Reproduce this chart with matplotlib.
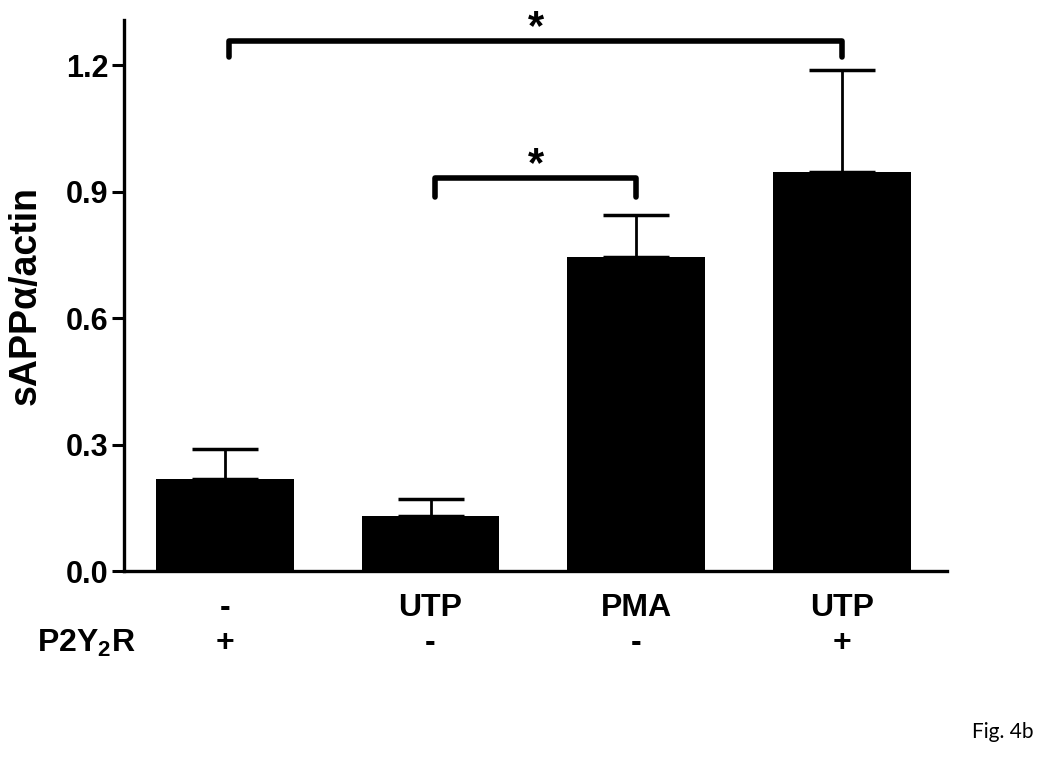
"""
Bar chart of sAPPalpha/actin by treatment (Fig. 4b)
"""
import matplotlib
matplotlib.use("Agg")
import matplotlib.pyplot as plt
import matplotlib.transforms as mtransforms

plt.rcParams["font.family"] = ["Liberation Sans", "DejaVu Sans"]
plt.rcParams["font.weight"] = "bold"
plt.rcParams["mathtext.fontset"] = "custom"
plt.rcParams["mathtext.rm"] = "Liberation Sans:bold"
plt.rcParams["mathtext.bf"] = "Liberation Sans:bold"

# data
treatment = ["-", "UTP", "PMA", "UTP"]
receptor = ["+", "-", "-", "+"]
means = [0.218, 0.130, 0.745, 0.946]
sems = [0.071, 0.041, 0.099, 0.242]
yticks = [0.0, 0.3, 0.6, 0.9, 1.2]

# significance brackets: (left bar, right bar, height, label)
brackets = [(0, 3, 1.257, "*"), (1, 2, 0.932, "*")]

fig = plt.figure(figsize=(10.5, 7.67), dpi=100)
ax = fig.add_axes([0.118, 0.2555, 0.784, 0.7185])

pos = list(range(len(means)))
ax.bar(pos, means, width=0.67, color="black", linewidth=0, zorder=2)
ax.errorbar(pos, means, yerr=[[0] * len(sems), sems], fmt="none",
            ecolor="black", elinewidth=2, capsize=24, capthick=2.5, zorder=3)

ax.set_xlim(-0.49, 3.51)
ax.set_ylim(0, 1.307)
ax.set_yticks(yticks)
ax.set_yticklabels([f"{v:.1f}" for v in yticks], fontsize=22, fontweight="bold")
ax.set_xticks([])
ax.tick_params(axis="y", direction="out", length=9, width=2.2, pad=2)

for side in ["top", "right"]:
    ax.spines[side].set_visible(False)
for side in ["left", "bottom"]:
    ax.spines[side].set_linewidth(2.4)

ax.set_ylabel("sAPP\u03b1/actin", fontsize=27, fontweight="bold")
ax.yaxis.set_label_coords(-0.097, 0.5)

# two rows of condition labels under the bars
trans = mtransforms.blended_transform_factory(ax.transData, ax.transAxes)
for x, t, r in zip(pos, treatment, receptor):
    ax.text(x, -0.067, t, transform=trans, ha="center", va="center",
            fontsize=23, fontweight="bold", clip_on=False)
    ax.text(x, -0.131, r, transform=trans, ha="center", va="center",
            fontsize=23, fontweight="bold", clip_on=False)
ax.text(-0.675, -0.131, r"$\mathbf{P2Y_2R}$", transform=trans, ha="center",
        va="center", fontsize=23, clip_on=False)

# significance brackets
for x0, x1, h, lab in brackets:
    drop = 0.038 if x1 - x0 > 1 else 0.046
    ax.plot([x0 + 0.02, x0 + 0.02, x1, x1], [h - drop, h, h, h - drop],
            color="black", lw=4, solid_joinstyle="round",
            solid_capstyle="round", clip_on=False)
    ax.text((x0 + x1) / 2 + 0.01, h + 0.03, lab, ha="center", va="center",
            fontsize=30, fontweight="bold", clip_on=False)

fig.text(0.955, 0.045, "Fig. 4b", ha="center", va="center",
         fontsize=15, fontweight="normal", family="Lato")

fig.savefig("out.png", dpi=100)
